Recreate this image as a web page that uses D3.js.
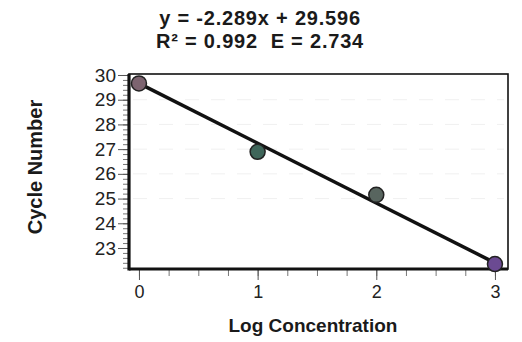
<!DOCTYPE html>
<html>
  <head>
    <meta charset="utf-8">
    <title>Standard curve</title>
    <script src="https://d3js.org/d3.v7.min.js"></script>
    <style>
      body { margin: 0; background: #fff; }
      svg { display: block; font-family: "Liberation Sans", Arial, sans-serif; }
    </style>
  </head>
  <body>
    <svg id="chart" width="522" height="342"></svg>
    <script>
      // data
      var logConc = [0, 1, 2, 3];
      var cycles = [29.66, 26.89, 25.15, 22.35];
      var pointColors = ["#7d6470", "#3f665a", "#58655f", "#6b4a92"];
      var fitX = [0, 3];
      var fitY = [29.66, 22.4];
      var xTicks = [0, 1, 2, 3];
      var yTicks = [23, 24, 25, 26, 27, 28, 29, 30];
      var titleLines = ["y = -2.289x + 29.596", "R\u00B2 = 0.992  E = 2.734"];

      var svg = d3.select("#chart");
      var x = d3.scaleLinear().domain([-0.084, 3.11]).range([129, 508]);
      var y = d3.scaleLinear().domain([22.15, 30.04]).range([269, 74]);

      // faint dashed grid
      svg.append("g")
        .selectAll("line")
          .data(yTicks.slice(2, 7))
        .enter().append("line")
          .attr("x1", x.range()[0] + 4)
          .attr("x2", x.range()[1] - 4)
          .attr("y1", function(d) { return y(d); })
          .attr("y2", function(d) { return y(d); })
          .attr("stroke", "#f0f0f0")
          .attr("stroke-width", 1)
          .attr("stroke-dasharray", "14,12");

      // frame
      svg.append("rect")
        .attr("x", x.range()[0])
        .attr("y", y.range()[1])
        .attr("width", x.range()[1] - x.range()[0])
        .attr("height", y.range()[0] - y.range()[1])
        .attr("fill", "none")
        .attr("stroke", "#111")
        .attr("stroke-width", 1.6);

      // y axis: minor then major
      var yMinor = d3.range(22.2, 30.01, 0.2);
      svg.append("g")
        .attr("transform", "translate(" + x.range()[0] + ",0)")
        .call(d3.axisLeft(y).tickValues(yMinor).tickSize(6).tickFormat(""))
        .call(function(g) { g.select(".domain").remove(); g.selectAll("line").attr("stroke", "#777"); });
      var yAxis = svg.append("g")
        .attr("transform", "translate(" + x.range()[0] + ",0)")
        .call(d3.axisLeft(y).tickValues(yTicks).tickSize(11).tickPadding(2));
      yAxis.select(".domain").remove();
      yAxis.selectAll("line").attr("stroke", "#555");
      yAxis.selectAll("text")
        .attr("font-size", 19)
        .attr("font-family", "Liberation Sans, Arial, sans-serif")
        .attr("fill", "#222");

      // x axis
      var xMinor = d3.range(0, 3.01, 0.25);
      svg.append("g")
        .attr("transform", "translate(0," + y.range()[0] + ")")
        .call(d3.axisBottom(x).tickValues(xMinor).tickSize(7).tickFormat(""))
        .call(function(g) { g.select(".domain").remove(); g.selectAll("line").attr("stroke", "#777"); });
      var xAxis = svg.append("g")
        .attr("transform", "translate(0," + y.range()[0] + ")")
        .call(d3.axisBottom(x).tickValues(xTicks).tickFormat(d3.format("d")).tickSize(11).tickPadding(5));
      xAxis.select(".domain").remove();
      xAxis.selectAll("line").attr("stroke", "#555");
      xAxis.selectAll("text")
        .attr("font-size", 18)
        .attr("font-family", "Liberation Sans, Arial, sans-serif")
        .attr("fill", "#222");

      // heavy left and bottom axis lines
      svg.append("line")
        .attr("x1", x.range()[0]).attr("x2", x.range()[0])
        .attr("y1", y.range()[1]).attr("y2", y.range()[0] + 1.5)
        .attr("stroke", "#111").attr("stroke-width", 3.2);
      svg.append("line")
        .attr("x1", x.range()[0]).attr("x2", x.range()[1])
        .attr("y1", y.range()[0]).attr("y2", y.range()[0])
        .attr("stroke", "#111").attr("stroke-width", 3.2);

      // fit line
      svg.append("line")
        .attr("x1", x(fitX[0])).attr("y1", y(fitY[0]))
        .attr("x2", x(fitX[1])).attr("y2", y(fitY[1]))
        .attr("stroke", "#111")
        .attr("stroke-width", 3.5);

      // points
      svg.append("g")
        .selectAll("circle")
          .data(logConc)
        .enter().append("circle")
          .attr("cx", function(d) { return x(d); })
          .attr("cy", function(d, i) { return y(cycles[i]); })
          .attr("r", 7.5)
          .attr("fill", function(d, i) { return pointColors[i]; })
          .attr("stroke", "#222")
          .attr("stroke-width", 1.5);

      // titles
      svg.append("g")
        .selectAll("text")
          .data(titleLines)
        .enter().append("text")
          .attr("x", 260)
          .attr("y", function(d, i) { return 25 + i * 23; })
          .attr("text-anchor", "middle")
          .attr("font-size", 20)
          .attr("font-weight", "bold")
          .attr("letter-spacing", 0.8)
          .attr("fill", "#1a1a1a")
          .style("white-space", "pre")
          .text(function(d) { return d; });

      svg.append("text")
        .attr("x", x(1.5) - 4)
        .attr("y", 332)
        .attr("text-anchor", "middle")
        .attr("font-size", 19)
        .attr("font-weight", "bold")
        .attr("fill", "#1a1a1a")
        .text("Log Concentration");

      svg.append("text")
        .attr("transform", "translate(42,167) rotate(-90)")
        .attr("text-anchor", "middle")
        .attr("font-size", 20)
        .attr("font-weight", "bold")
        .attr("fill", "#1a1a1a")
        .text("Cycle Number");
    </script>
  </body>
</html>
